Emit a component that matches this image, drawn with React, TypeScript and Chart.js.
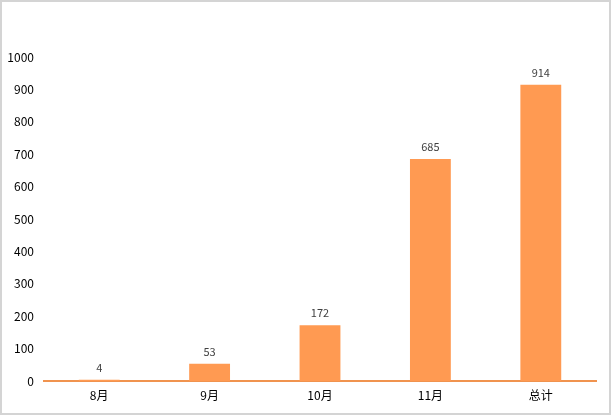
import React, { useEffect, useRef } from "react";
import { Chart, registerables } from "chart.js";

Chart.register(...registerables);

const categories = ["8月", "9月", "10月", "11月", "总计"];
const values = [4, 53, 172, 685, 914];
const yMin = 0;
const yMax = 1000;
const yStep = 100;

const FONT = "'Noto Sans CJK SC', 'Noto Sans', sans-serif";

const valueLabels = {
  id: "valueLabels",
  afterDatasetsDraw(chart: any) {
    const ctx = chart.ctx;
    const meta = chart.getDatasetMeta(0);
    ctx.save();
    ctx.fillStyle = "#404040";
    ctx.font = `11px ${FONT}`;
    ctx.textAlign = "center";
    ctx.textBaseline = "middle";
    meta.data.forEach((bar: any, i: number) => {
      ctx.fillText(String(values[i]), bar.x, bar.y - 12);
    });
    ctx.restore();
  },
};

export default function App() {
  const ref = useRef<HTMLCanvasElement | null>(null);
  useEffect(() => {
    if (!ref.current) return;
    const chart = new Chart(ref.current, {
      type: "bar",
      data: {
        labels: categories,
        datasets: [
          {
            data: values,
            backgroundColor: "#FF9A52",
            borderWidth: 0,
            barPercentage: 0.37,
            categoryPercentage: 1,
          },
        ],
      },
      options: {
        responsive: false,
        animation: false,
        layout: { padding: { top: 55, right: 13, left: 0, bottom: 0 } },
        plugins: { legend: { display: false }, tooltip: { enabled: false } },
        scales: {
          x: {
            grid: { display: false, drawTicks: false },
            border: { display: true, color: "#F0934F", width: 2 },
            ticks: { color: "#000", font: { size: 12, family: FONT }, padding: 7 },
            afterFit: (s: any) => {
              s.height = 32;
            },
          },
          y: {
            min: yMin,
            max: yMax,
            grid: { display: false, drawTicks: false },
            border: { display: false },
            ticks: {
              stepSize: yStep,
              color: "#000",
              font: { size: 12, family: FONT },
              padding: 10,
              callback: (v: any) => String(v),
            },
            afterFit: (s: any) => {
              s.width = 42;
            },
          },
        },
      },
      plugins: [valueLabels],
    });
    return () => chart.destroy();
  }, []);
  return (
    <div
      style={{
        position: "fixed",
        left: 0,
        top: 0,
        width: 611,
        height: 415,
        boxSizing: "border-box",
        border: "2px solid #d4d4d4",
        background: "#fff",
      }}
    >
      <canvas ref={ref} width={607} height={411} style={{ display: "block" }} />
    </div>
  );
}
